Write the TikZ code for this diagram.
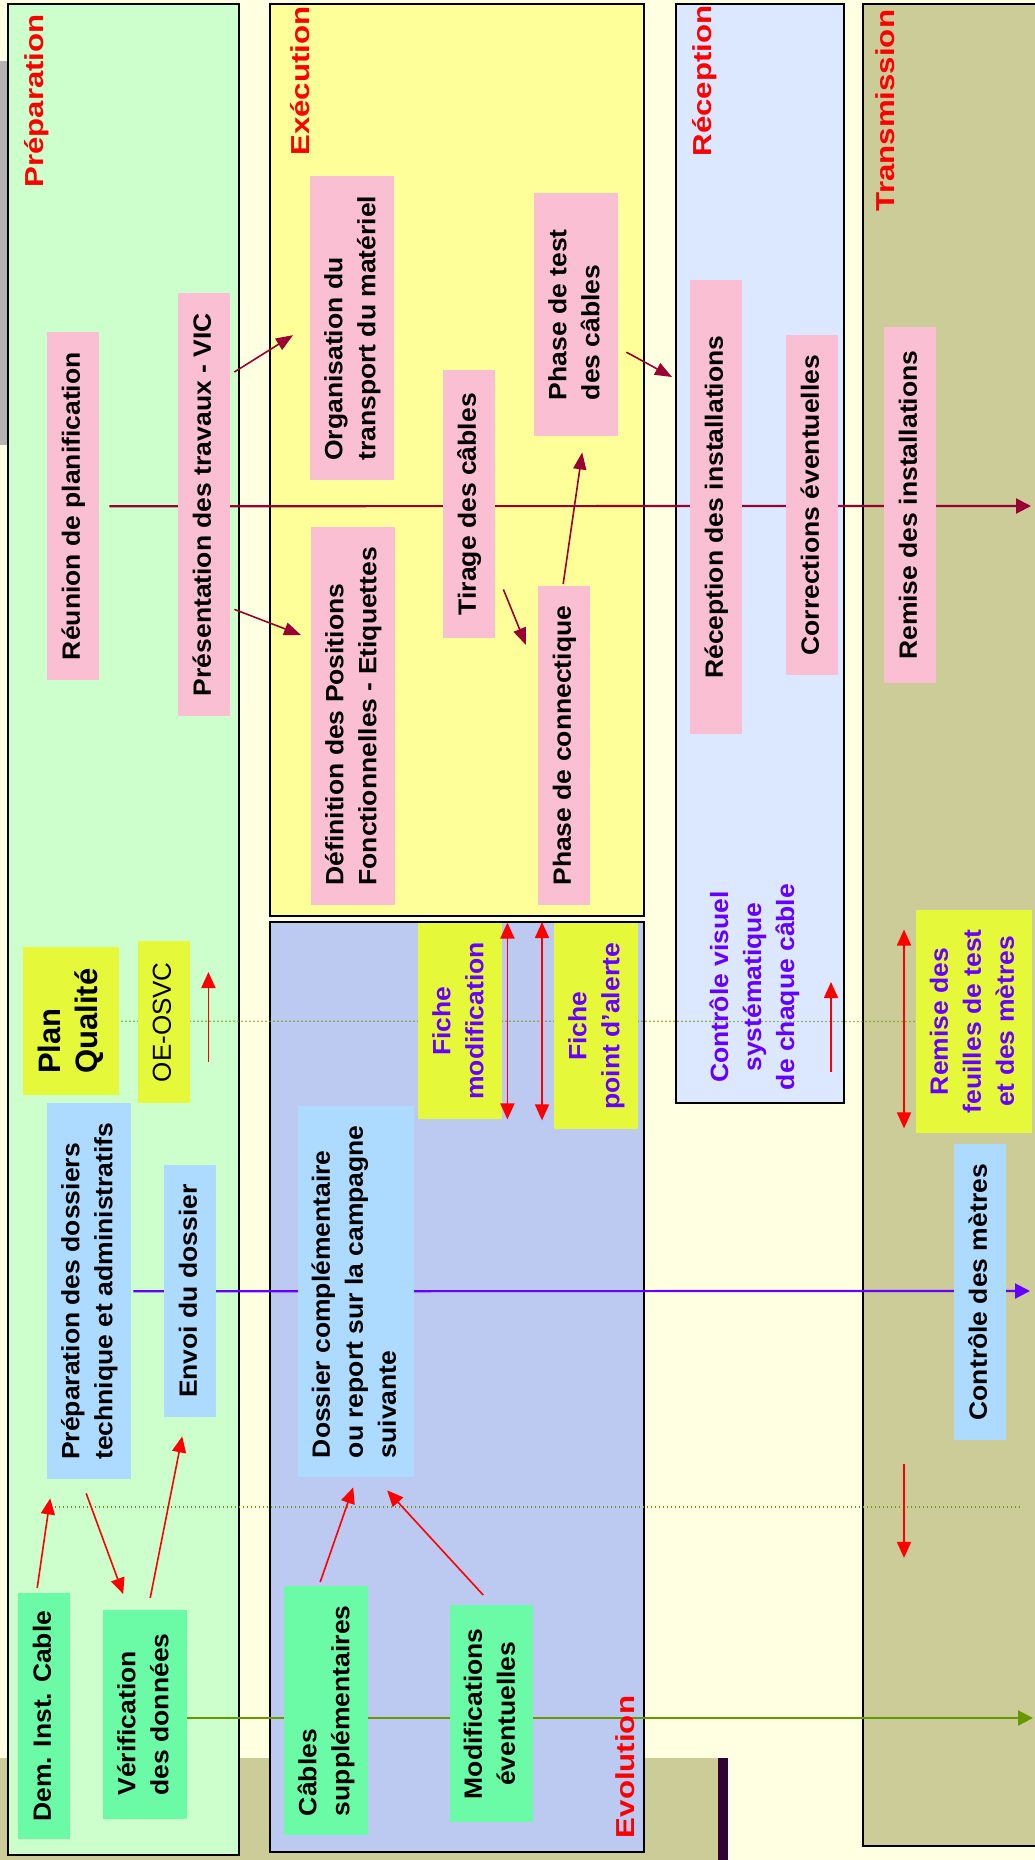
\documentclass[tikz,border=0pt]{standalone}
\usepackage{fontspec}
\setmainfont{Liberation Sans}
\usepackage{graphicx}
\usetikzlibrary{arrows.meta}
\pgfdeclarelayer{bg}
\pgfdeclarelayer{lines}
\pgfsetlayers{bg,lines,main}

\definecolor{bgc}{HTML}{FFFFE1}
\definecolor{prepc}{HTML}{CCFFCC}
\definecolor{execc}{HTML}{FFFF99}
\definecolor{evolc}{HTML}{BCC9F1}
\definecolor{recc}{HTML}{DCE8FF}
\definecolor{khakic}{HTML}{CCCC99}
\definecolor{pinkc}{HTML}{FBBFD4}
\definecolor{bluec}{HTML}{ADDBFF}
\definecolor{greenc}{HTML}{6BFBA6}
\definecolor{ygc}{HTML}{E5F93A}
\definecolor{darkredc}{HTML}{990033}
\definecolor{purpc}{HTML}{6600FF}
\definecolor{oliveg}{HTML}{669900}
\definecolor{darkbarc}{HTML}{330033}
\definecolor{grayc}{HTML}{B3B3B3}

% #1 align, #2 font size, #3 baselineskip, #4 stretch along reading direction, #5 text
\newcommand\rtxt[5]{\rotatebox{90}{\scalebox{#4}[1]{\fontsize{#2}{#3}\selectfont\begin{tabular}{@{}#1@{}}#5\end{tabular}}}}
\newcommand\btxt[2]{\rtxt{#1}{25}{33}{1.06}{#2}}

\tikzset{
  panel/.style={draw=black, line width=2pt, inner sep=0pt, anchor=north west},
  box/.style={rectangle, inner sep=0pt, anchor=north west, font=\bfseries, text=black},
  ptitle/.style={inner sep=0pt, font=\bfseries, text=red},
  drarrow/.style={draw=darkredc, line width=1.6pt, -{Triangle[length=17pt,width=13pt]}},
  redarrow/.style={draw=red, line width=1.6pt, -{Triangle[length=16pt,width=14pt]}},
  redboth/.style={draw=red, line width=1.6pt, {Triangle[length=16pt,width=14pt]}-{Triangle[length=16pt,width=14pt]}},
  mainline/.style={line width=2.2pt, -{Triangle[length=15pt,width=15pt]}},
  dotline/.style={draw=oliveg, line width=1.3pt, dash pattern=on 1.3pt off 2.7pt},
}

\begin{document}
\begin{tikzpicture}[x=1pt,y=-1pt]
\useasboundingbox (0,0) rectangle (1035,1860);
\clip (0,0) rectangle (1035,1860);

\begin{pgfonlayer}{bg}
\fill[bgc] (0,0) rectangle (1035,1860);
\fill[grayc] (0,61) rectangle (20,445);
\fill[khakic] (0,1758) rectangle (718,1860);
\fill[darkbarc] (718,1758) rectangle (728,1860);
\node[panel, fill=prepc, minimum width=231, minimum height=1851] (pprep) at (7,3) {};
\node[panel, fill=execc, minimum width=374, minimum height=912] (pexec) at (269,3) {};
\node[panel, fill=evolc, minimum width=374, minimum height=930.5] (pevol) at (269,920.5) {};
\node[panel, fill=recc, minimum width=168, minimum height=1098.6] (precp) at (675,3) {};
\node[panel, fill=khakic, minimum width=190, minimum height=1842] (ptrans) at (862,3) {};
\end{pgfonlayer}

% panel titles
\node[ptitle] (tprep) at (36.5,101) {\rtxt{c}{26}{33}{1.2}{Préparation}};
\node[ptitle] (texec) at (303,81) {\rtxt{c}{26}{33}{1.2}{Exécution}};
\node[ptitle] (trecp) at (705,81) {\rtxt{c}{26}{33}{1.2}{Réception}};
\node[ptitle] (ttrans) at (888,110.5) {\rtxt{c}{26}{33}{1.2}{Transmission}};
\node[ptitle] (tevol) at (628,1767) {\rtxt{c}{26}{33}{1.2}{Evolution}};

% pink boxes
\node[box, fill=pinkc, minimum width=52, minimum height=348] (reunion) at (47,332) {\btxt{c}{Réunion de planification}};
\node[box, fill=pinkc, minimum width=52, minimum height=423] (present) at (178,293) {\btxt{c}{Présentation des travaux - VIC}};
\node[box, fill=pinkc, minimum width=84, minimum height=304] (organis) at (310,176) {\btxt{l}{Organisation du\\transport du matériel}};
\node[box, fill=pinkc, minimum width=84, minimum height=378] (defin) at (311,527) {\btxt{l}{Définition des Positions\\Fonctionnelles - Etiquettes}};
\node[box, fill=pinkc, minimum width=52, minimum height=268] (tirage) at (443,370) {\btxt{c}{Tirage des câbles}};
\node[box, fill=pinkc, minimum width=84, minimum height=243] (phtest) at (534,193) {\btxt{l}{Phase de test\\des câbles}};
\node[box, fill=pinkc, minimum width=52, minimum height=319] (connect) at (538,586) {\btxt{c}{Phase de connectique}};
\node[box, fill=pinkc, minimum width=52, minimum height=454] (recinst) at (690,280) {\btxt{c}{Réception des installations}};
\node[box, fill=pinkc, minimum width=52, minimum height=340] (correc) at (786,335) {\btxt{c}{Corrections éventuelles}};
\node[box, fill=pinkc, minimum width=52, minimum height=356] (reminst) at (884,327) {\btxt{c}{Remise des installations}};

% yellow-green boxes
\node[box, fill=ygc, minimum width=96, minimum height=148] (planq) at (23,947) {\rtxt{l}{31}{37}{1}{Plan\\Qualité}};
\node[box, fill=ygc, minimum width=52, minimum height=162] (oeosvc) at (138,941) {\rtxt{c}{26}{33}{1}{\mdseries OE-OSVC}};
\node[box, fill=ygc, text=purpc, minimum width=84, minimum height=196.5] (fichemod) at (418,922.5) {\btxt{c}{Fiche\\modification}};
\node[box, fill=ygc, text=purpc, minimum width=84, minimum height=206] (fichealert) at (554,923) {\btxt{c}{Fiche\\point d’alerte}};
\node[box, fill=ygc, text=purpc, minimum width=116, minimum height=223.5] (remfeuil) at (916,909.5) {\btxt{c}{Remise des\\feuilles de test\\et des mètres}};
\node[box, anchor=center, text=purpc] (ctrlvis) at (754.5,987) {\btxt{c}{Contrôle visuel\\systématique\\de chaque câble}};

% blue boxes
\node[box, fill=bluec, minimum width=84, minimum height=376] (prepdoss) at (47,1103) {\btxt{l}{Préparation des dossiers\\technique et administratifs}};
\node[box, fill=bluec, minimum width=52, minimum height=252] (envoi) at (164,1165) {\btxt{c}{Envoi du dossier}};
\node[box, fill=bluec, minimum width=116, minimum height=371] (dossier) at (298,1106) {\btxt{l}{Dossier complémentaire\\ou report sur la campagne\\suivante}};
\node[box, fill=bluec, minimum width=52, minimum height=296] (contmet) at (954,1144) {\btxt{c}{Contrôle des mètres}};

% green boxes
\node[box, fill=greenc, minimum width=52, minimum height=246] (dem) at (18,1593) {\btxt{c}{Dem. Inst. Cable}};
\node[box, fill=greenc, minimum width=84, minimum height=208.5] (verif) at (103,1610) {\btxt{l}{Vérification\\des données}};
\node[box, fill=greenc, minimum width=84, minimum height=249] (cables) at (284,1586) {\btxt{l}{Câbles\\supplémentaires}};
\node[box, fill=greenc, minimum width=83, minimum height=217] (modif) at (450,1605) {\btxt{c}{Modifications\\éventuelles}};

% free ends
\coordinate (mainend) at (1031,506);
\coordinate (purpend) at (1030,1291);
\coordinate (greenend) at (1033,1718);
\coordinate (d2a) at (55,1507);
\coordinate (d2b) at (1021,1507);

\begin{pgfonlayer}{lines}
\draw[mainline, darkredc] ([xshift=10pt]reunion.east) -- (mainend);
\draw[mainline, purpc] ([xshift=2pt]prepdoss.east) -- (purpend);
\draw[mainline, oliveg] (verif.east |- greenend) -- (greenend);
\draw[dotline] ([xshift=2pt]planq.east) -- (remfeuil.west);
\draw[dotline] (d2a) -- (d2b);
\end{pgfonlayer}

% dark red arrows
\draw[drarrow] ([shift={(4,79)}]present.north east) -- ([shift={(-17,7)}]organis.west);
\draw[drarrow] ([shift={(4,-107)}]present.south east) -- ([shift={(-10,108)}]defin.north west);
\draw[drarrow] ([shift={(8,-49)}]tirage.south east) -- ([shift={(-12,59)}]connect.north west);
\draw[drarrow] ([shift={(-1,-2)}]connect.north) -- ([shift={(6,16)}]phtest.south);
\draw[drarrow] ([shift={(8,37.5)}]phtest.east) -- ([shift={(-3,-176.3)}]precp.west);

% red arrows
\draw[redarrow] ([shift={(-7,-5)}]dem.north) -- ([shift={(-39,19)}]prepdoss.south);
\draw[redarrow] ([shift={(-3,14)}]prepdoss.south) -- ([shift={(-22,-16)}]verif.north);
\draw[redarrow] ([shift={(5,-12)}]verif.north) -- ([shift={(-8,19)}]envoi.south);
\draw[redarrow] ([shift={(-6,-4)}]cables.north) -- ([shift={(-3,10)}]dossier.south);
\draw[redarrow] ([shift={(-8.5,-10)}]modif.north) -- ([shift={(31,13)}]dossier.south);
\draw[redarrow] ([shift={(18,-41)}]oeosvc.south east) -- ([shift={(18,31)}]oeosvc.north east);
\draw[redboth] ([shift={(5,0)}]fichemod.north east) -- ([shift={(5,0)}]fichemod.south east);
\draw[redboth] ([shift={(-12,-1)}]fichealert.north west) -- ([shift={(-12,-9)}]fichealert.south west);
\draw[redarrow] ([shift={(-14,-31.6)}]precp.south east) -- ([shift={(-14,-121.6)}]precp.south east);
\draw[redboth] ([shift={(-12,20)}]remfeuil.north west) -- ([shift={(-12,-5)}]remfeuil.south west);
\draw[redarrow] ([shift={(-50,24)}]contmet.south west) -- ([shift={(-50,117.5)}]contmet.south west);
\end{tikzpicture}
\end{document}
